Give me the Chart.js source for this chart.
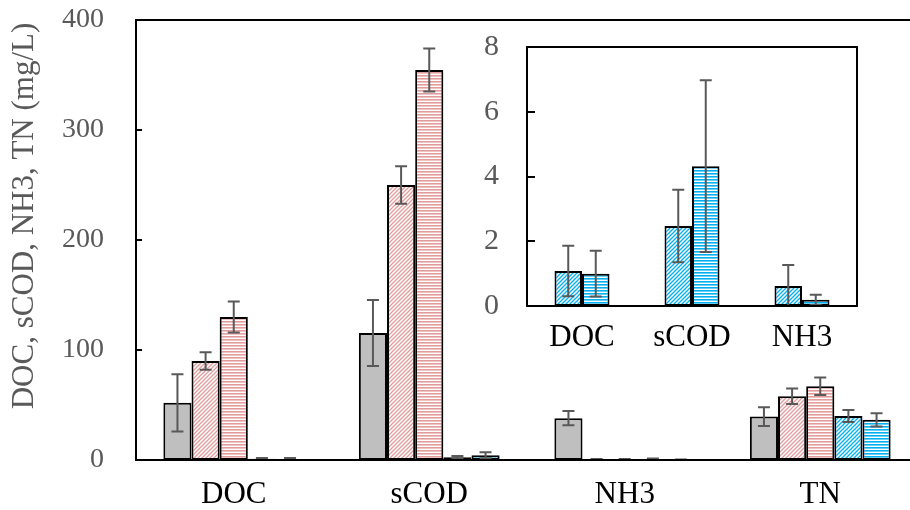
<!DOCTYPE html>
<html>
<head>
<meta charset="utf-8">
<script src="https://cdn.jsdelivr.net/npm/chart.js@4.4.0/dist/chart.umd.min.js"></script>
<style>
  html, body { margin: 0; padding: 0; background: #fff; overflow: hidden; width: 910px; height: 510px; }
  #main { position: absolute; left: 0; top: 0; }
  #inset { position: absolute; left: 470px; top: 20px; }
</style>
</head>
<body>
<canvas id="main" width="920" height="510"></canvas>
<canvas id="inset" width="400" height="350"></canvas>
<script>
// data
const categories = ["DOC", "sCOD", "NH3", "TN"];
const insetCategories = ["DOC", "sCOD", "NH3"];

const grayVals = [52, 115.5, 38, 39.5];
const grayErr = [26, 30, 6.5, 8.5];
const redHatchVals = [90, 250, 0.6, 58];
const redHatchErr = [8, 17, 0.3, 7];
const redStripeVals = [130, 354.5, 0.5, 67];
const redStripeErr = [14, 19.5, 0.3, 8];
const blueHatchVals = [1.08, 2.47, 0.62, 40];
const blueHatchErr = [0.78, 1.12, 0.65, 5.5];
const blueStripeVals = [1.0, 4.32, 0.19, 36.5];
const blueStripeErr = [0.71, 2.65, 0.16, 6];

const mainTicks = [0, 100, 200, 300, 400];
const insetTicks = [0, 2, 4, 6, 8];

const RED = "#e39c9c";
const BLUE = "#00b0f0";
const GRAY = "#bfbfbf";
const TXT_GRAY = "#595959";
const FONT = "'Liberation Serif', 'Times New Roman', serif";

// patterns
function hatch(color) {
  const c = document.createElement("canvas");
  c.width = 4; c.height = 4;
  const x = c.getContext("2d");
  x.fillStyle = "#fff";
  x.fillRect(0, 0, 4, 4);
  x.strokeStyle = color;
  x.lineWidth = 1.3;
  x.beginPath();
  x.moveTo(-1, 5); x.lineTo(5, -1);
  x.moveTo(-1, 1); x.lineTo(1, -1);
  x.moveTo(3, 5); x.lineTo(5, 3);
  x.stroke();
  return x.createPattern(c, "repeat");
}
function stripes(color) {
  const c = document.createElement("canvas");
  c.width = 4; c.height = 3;
  const x = c.getContext("2d");
  x.fillStyle = "#fff";
  x.fillRect(0, 0, 4, 3);
  x.fillStyle = color;
  x.fillRect(0, 0, 4, 1.6);
  return x.createPattern(c, "repeat");
}

// error bars, inward ticks, frame
const extras = {
  id: "extras",
  afterDatasetsDraw(chart, args, opts) {
    const ctx = chart.ctx;
    const y = chart.scales.y;
    ctx.save();
    ctx.strokeStyle = TXT_GRAY;
    ctx.lineWidth = 2;
    chart.data.datasets.forEach((ds, i) => {
      const meta = chart.getDatasetMeta(i);
      meta.data.forEach((bar, j) => {
        const v = ds.data[j], e = ds.err[j];
        const top = y.getPixelForValue(v + e);
        const bot = y.getPixelForValue(Math.max(0, v - e));
        ctx.beginPath();
        ctx.moveTo(bar.x, top); ctx.lineTo(bar.x, bot);
        ctx.moveTo(bar.x - 6, top); ctx.lineTo(bar.x + 6, top);
        if (v - e > 0) { ctx.moveTo(bar.x - 6, bot); ctx.lineTo(bar.x + 6, bot); }
        ctx.stroke();
      });
    });
    ctx.restore();
  },
  afterDraw(chart, args, opts) {
    const ctx = chart.ctx;
    const a = chart.chartArea;
    const y = chart.scales.y;
    ctx.save();
    ctx.strokeStyle = "#000";
    ctx.lineWidth = 2;
    ctx.strokeRect(a.left, a.top, a.right - a.left, a.bottom - a.top);
    ctx.beginPath();
    y.ticks.forEach(t => {
      const p = Math.round(y.getPixelForValue(t.value));
      ctx.moveTo(a.left, p); ctx.lineTo(a.left + opts.tick, p);
    });
    ctx.stroke();
    if (opts.title) {
      ctx.translate(opts.title.x, opts.title.y);
      ctx.rotate(-Math.PI / 2);
      ctx.fillStyle = TXT_GRAY;
      ctx.font = opts.title.font;
      ctx.textAlign = "center";
      ctx.textBaseline = "middle";
      ctx.fillText(opts.title.text, 0, 0);
    }
    ctx.restore();
  }
};

function dataset(label, vals, errs, bg) {
  return { label, data: vals, err: errs, backgroundColor: bg, borderColor: "#000", borderWidth: 2, borderSkipped: false };
}

function noPad(s) {
  s.paddingTop = 0; s.paddingBottom = 0; s.paddingLeft = 0; s.paddingRight = 0;
}

// main chart
const mainChart = new Chart(document.getElementById("main"), {
  type: "bar",
  data: {
    labels: categories,
    datasets: [
      dataset("gray", grayVals, grayErr, GRAY),
      dataset("red hatch", redHatchVals, redHatchErr, hatch(RED)),
      dataset("red stripe", redStripeVals, redStripeErr, stripes(RED)),
      dataset("blue hatch", blueHatchVals, blueHatchErr, hatch(BLUE)),
      dataset("blue stripe", blueStripeVals, blueStripeErr, stripes(BLUE)),
    ],
  },
  options: {
    responsive: false,
    animation: false,
    categoryPercentage: 0.72,
    barPercentage: 1,
    layout: { padding: { top: 20, right: 2, left: 0, bottom: 0 } },
    scales: {
      x: {
        grid: { display: false, drawTicks: false },
        border: { display: false },
        ticks: { color: "#000", font: { family: FONT, size: 31 }, padding: 16 },
        afterFit(s) { s.height = 50; noPad(s); },
      },
      y: {
        min: 0,
        max: 400,
        afterBuildTicks(s) { s.ticks = mainTicks.map(v => ({ value: v })); },
        grid: { display: false, drawTicks: false },
        border: { display: false },
        ticks: { color: TXT_GRAY, font: { family: FONT, size: 28 }, padding: 32 },
        afterFit(s) { s.width = 136; noPad(s); },
      },
    },
    plugins: {
      legend: { display: false },
      tooltip: { enabled: false },
      extras: {
        tick: 6,
        title: { text: "DOC, sCOD, NH3, TN (mg/L)", x: 25, y: 216, font: "31px " + FONT },
      },
    },
  },
  plugins: [extras],
});

// inset chart
const insetChart = new Chart(document.getElementById("inset"), {
  type: "bar",
  data: {
    labels: insetCategories,
    datasets: [
      dataset("blue hatch", blueHatchVals.slice(0, 3), blueHatchErr.slice(0, 3), hatch(BLUE)),
      dataset("blue stripe", blueStripeVals.slice(0, 3), blueStripeErr.slice(0, 3), stripes(BLUE)),
    ],
  },
  options: {
    responsive: false,
    animation: false,
    categoryPercentage: 0.5,
    barPercentage: 1,
    layout: { padding: { top: 27, right: 13, left: 0, bottom: 0 } },
    scales: {
      x: {
        grid: { display: false, drawTicks: false },
        border: { display: false },
        ticks: { color: "#000", font: { family: FONT, size: 31 }, padding: 13 },
        afterFit(s) { s.height = 64; noPad(s); },
      },
      y: {
        min: 0,
        max: 8,
        afterBuildTicks(s) { s.ticks = insetTicks.map(v => ({ value: v })); },
        grid: { display: false, drawTicks: false },
        border: { display: false },
        ticks: { color: TXT_GRAY, font: { family: FONT, size: 30 }, padding: 28 },
        afterFit(s) { s.width = 57; noPad(s); },
      },
    },
    plugins: {
      legend: { display: false },
      tooltip: { enabled: false },
      extras: { tick: 8 },
    },
  },
  plugins: [extras],
});
</script>
</body>
</html>
